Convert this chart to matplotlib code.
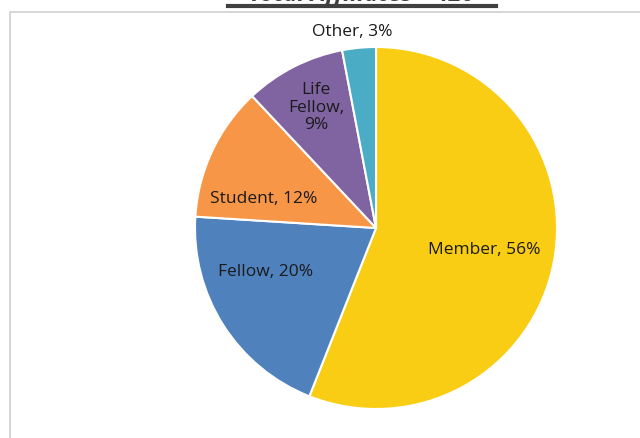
import matplotlib
matplotlib.use("Agg")
import matplotlib.pyplot as plt
from matplotlib.patches import Rectangle

categories = ["Member", "Fellow", "Student", "Life Fellow", "Other"]
values = [56, 20, 12, 9, 3]
label_texts = ["Member, 56%", "Fellow, 20%", "Student, 12%", "Life\nFellow,\n9%", "Other, 3%"]
colors = ["#F9CD14", "#4F81BD", "#F79646", "#8064A2", "#4BACC6"]
title = "Total Affiliates \u2013 420"

W, H = 640, 438
fig = plt.figure(figsize=(W / 100, H / 100), dpi=100)
fig.patch.set_facecolor("white")

# chart frame
fig.patches.append(Rectangle((10 / W, -0.01), 1.0, (H - 12) / H + 0.01,
                             transform=fig.transFigure, fill=False,
                             edgecolor="#d0d0d0", linewidth=1.2))

# title (mostly cut off at the top, as in the reference)
fig.text(362 / W, (H + 5) / H, title, ha="center", va="center",
         fontsize=17, fontweight="bold", fontstyle="italic",
         family="Open Sans", color="#404040")
fig.add_artist(plt.Line2D([228 / W, 496 / W], [(H - 5.5) / H, (H - 5.5) / H],
                          transform=fig.transFigure, color="#404040", linewidth=3))

cx, cy, r = 376, H - 228, 181
ax = fig.add_axes([(cx - r) / W, (cy - r) / H, 2 * r / W, 2 * r / H])
ax.axis("off")

ax.pie(values, colors=colors, startangle=90, counterclock=False, radius=1.0,
       wedgeprops=dict(edgecolor="white", linewidth=1.5))
ax.set_xlim(-1, 1)
ax.set_ylim(-1, 1)

label_pos = [(0.60, -0.12), (-0.61, -0.245), (-0.62, 0.16), (-0.33, 0.665), (-0.13, 1.085)]
for txt, (x, y) in zip(label_texts, label_pos):
    ax.text(x, y, txt, ha="center", va="center", fontsize=12.5,
            family="Open Sans", color="#1a1a1a", linespacing=1.15)

fig.savefig("out.png", dpi=100)
